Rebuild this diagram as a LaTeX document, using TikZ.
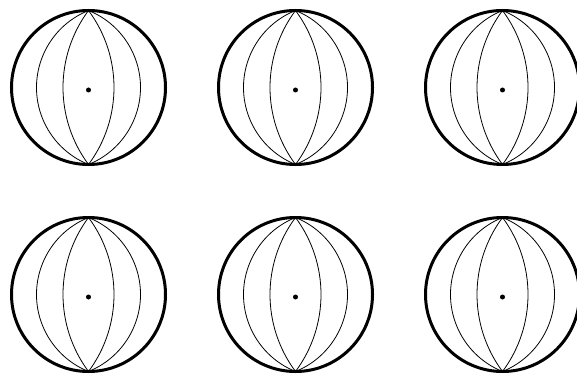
\documentclass[tikz,border=0pt]{standalone}
\usepackage{tikz}
\usetikzlibrary{calc}
\definecolor{ink}{HTML}{000000}
\newcommand{\globe}[2]{\begin{scope}[shift={(#1,#2)}]\draw[ink,line width=3pt] (0,0) circle (77pt);\foreach \s in {25.5,52}{\pgfmathsetmacro{\R}{(77*77+\s*\s)/(2*\s)}\pgfmathsetmacro{\ph}{asin(77/\R)}\draw[ink,line width=.8pt] (0,77) arc[start angle=\ph,end angle=-\ph,radius=\R pt];\draw[ink,line width=.8pt] (0,77) arc[start angle=180-\ph,end angle=180+\ph,radius=\R pt];}\fill[ink] (0,-2.5) circle (2.5pt);\end{scope}}

\begin{document}
\begin{tikzpicture}[x=1pt,y=1pt]
\useasboundingbox (0,0) rectangle (577,375);
\clip (0,0) rectangle (577,375);
\foreach \gx in {88.5,295.5,502.5}{\foreach \gy in {287.5,80.5}{\globe{\gx}{\gy}}}
\end{tikzpicture}
\end{document}
